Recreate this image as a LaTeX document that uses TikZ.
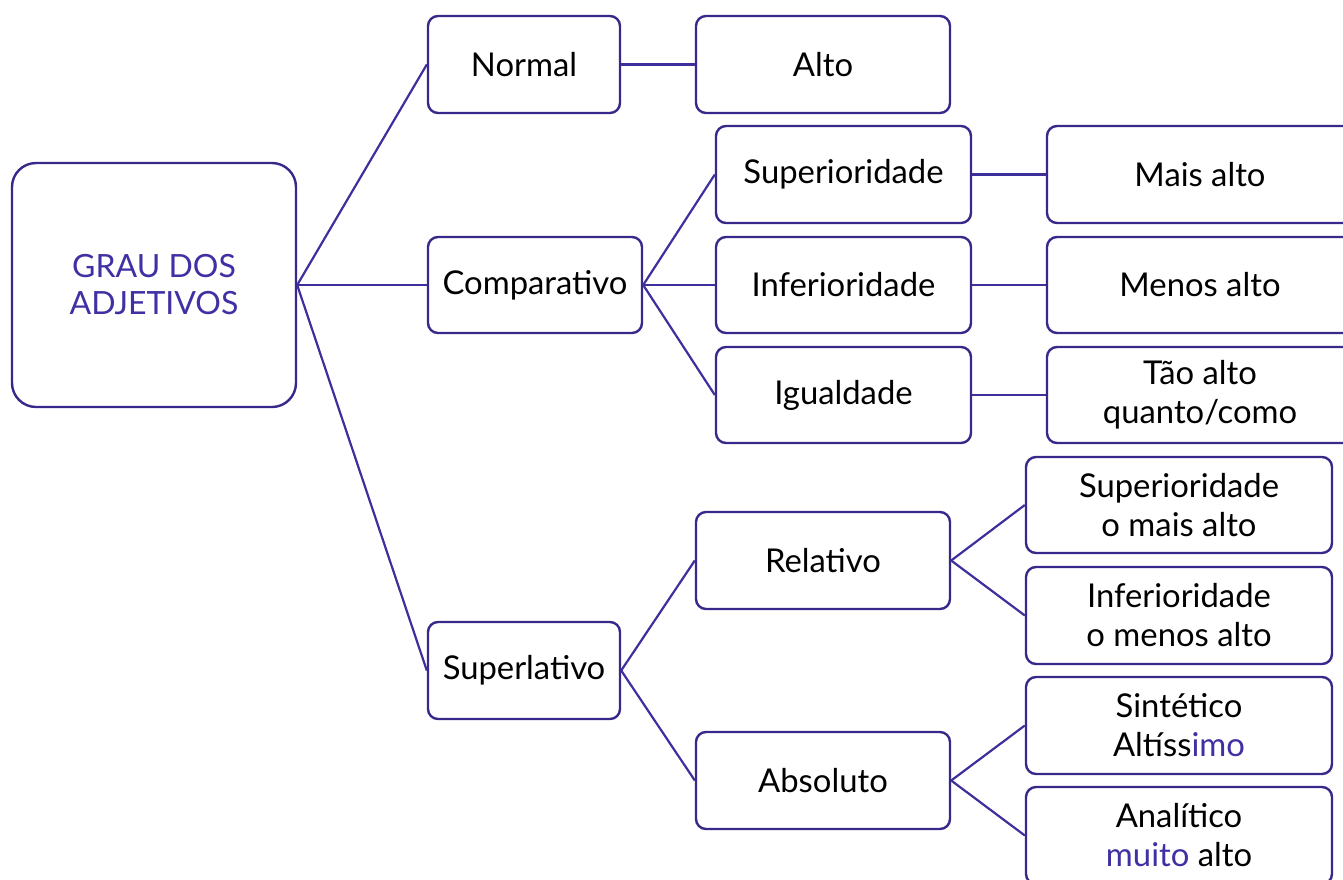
\documentclass[tikz,border=0pt]{standalone}
\usepackage{fontspec}
\setmainfont{Lato}
\usetikzlibrary{positioning}
\definecolor{roxo}{HTML}{3F30A3}
\definecolor{borda}{HTML}{37298A}
\definecolor{linha}{HTML}{3D2F9C}
\tikzstyle{caixa} = [
rectangle, rounded corners=5pt, draw=borda, line width=1.2pt,
fill=white, align=center, text centered, font=\fontsize{16.4}{19.5}\selectfont,
inner sep=0pt
]
\tikzstyle{raiz} = [
caixa, rounded corners=12pt, text=roxo, font=\fontsize{16}{18.5}\selectfont,
minimum width=142pt, minimum height=122pt
]
\tikzstyle{ligacao} = [draw=linha, line width=1.1pt]
\newcommand{\destaque}[1]{\textcolor{roxo}{#1}}

\begin{document}
\begin{tikzpicture}[x=0.5pt, y=-0.5pt]
			\useasboundingbox (0,0) rectangle (1343,879);
			\clip (0,0) rectangle (1343,879);

			% Raiz e graus
			\node (grau) [raiz] at (154,285) {GRAU DOS\\ADJETIVOS};
			\node (normal) [caixa, minimum width=96pt, minimum height=48.5pt] at (524,64.5) {Normal};
			\node (comparativo) [caixa, minimum width=107pt, minimum height=48pt] at (535,285) {Comparativo};
			\node (superlativo) [caixa, minimum width=96pt, minimum height=48.5pt] at (524,670.5) {Superlativo};

			% Normal
			\node (alto) [caixa, minimum width=127pt, minimum height=48.5pt] at (823,64.5) {Alto};

			% Comparativo
			\node (comp_sup) [caixa, minimum width=127.5pt, minimum height=48.5pt] at (843.5,174.5) {Superioridade};
			\node (comp_inf) [caixa, minimum width=127.5pt, minimum height=48pt] at (843.5,285) {Inferioridade};
			\node (comp_igu) [caixa, minimum width=127.5pt, minimum height=48pt] at (843.5,395) {Igualdade};
			\node (mais_alto) [caixa, minimum width=153pt, minimum height=48.5pt] at (1200,174.5) {Mais alto};
			\node (menos_alto) [caixa, minimum width=153pt, minimum height=48pt] at (1200,285) {Menos alto};
			\node (tao_alto) [caixa, minimum width=153pt, minimum height=48pt] at (1200,395) {Tão alto\\quanto/como};

			% Superlativo
			\node (relativo) [caixa, minimum width=127pt, minimum height=48.5pt] at (823,560.5) {Relativo};
			\node (absoluto) [caixa, minimum width=127pt, minimum height=48.5pt] at (823,780.5) {Absoluto};
			\node (rel_sup) [caixa, minimum width=153pt, minimum height=48pt] at (1179,505) {Superioridade\\o mais alto};
			\node (rel_inf) [caixa, minimum width=153pt, minimum height=48.5pt] at (1179,615.5) {Inferioridade\\o menos alto};
			\node (sintetico) [caixa, minimum width=153pt, minimum height=48.5pt] at (1179,725.5) {Sintético\\Altíss\destaque{imo}};
			\node (analitico) [caixa, minimum width=153pt, minimum height=48.5pt] at (1179,835.5) {Analítico\\\destaque{muito} alto};

			% Ligações
			\draw [ligacao] (grau.east) -- (normal.west);
			\draw [ligacao] (grau.east) -- (comparativo.west);
			\draw [ligacao] (grau.east) -- (superlativo.west);
			\draw [ligacao] (normal.east) -- (alto.west);
			\draw [ligacao] (comparativo.east) -- (comp_sup.west);
			\draw [ligacao] (comparativo.east) -- (comp_inf.west);
			\draw [ligacao] (comparativo.east) -- (comp_igu.west);
			\draw [ligacao] (comp_sup.east) -- (mais_alto.west);
			\draw [ligacao] (comp_inf.east) -- (menos_alto.west);
			\draw [ligacao] (comp_igu.east) -- (tao_alto.west);
			\draw [ligacao] (superlativo.east) -- (relativo.west);
			\draw [ligacao] (superlativo.east) -- (absoluto.west);
			\draw [ligacao] (relativo.east) -- (rel_sup.west);
			\draw [ligacao] (relativo.east) -- (rel_inf.west);
			\draw [ligacao] (absoluto.east) -- (sintetico.west);
			\draw [ligacao] (absoluto.east) -- (analitico.west);

		\end{tikzpicture}
\end{document}
